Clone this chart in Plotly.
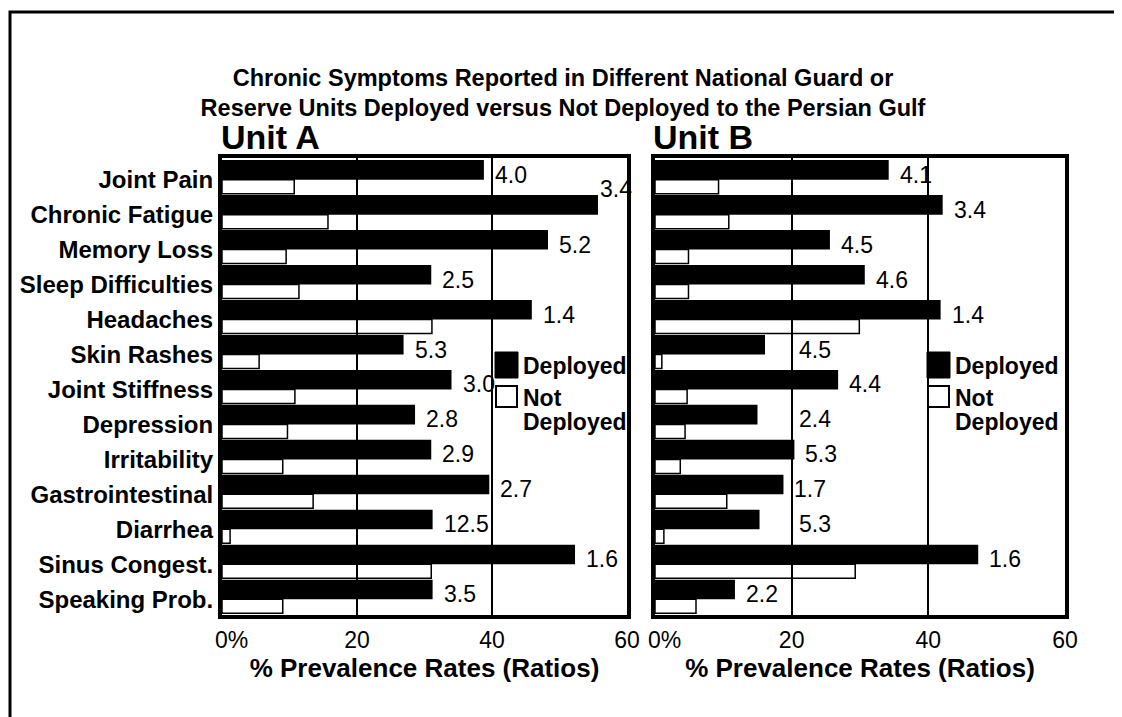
import plotly.graph_objects as go

symptoms = ["Joint Pain", "Chronic Fatigue", "Memory Loss", "Sleep Difficulties", "Headaches",
            "Skin Rashes", "Joint Stiffness", "Depression", "Irritability", "Gastrointestinal",
            "Diarrhea", "Sinus Congest.", "Speaking Prob."]
a_deployed = [38.8, 55.7, 48.3, 31.0, 45.9, 26.9, 34.0, 28.6, 31.0, 39.6, 31.2, 52.3, 31.2]
a_not_deployed = [10.7, 15.7, 9.5, 11.4, 31.1, 5.5, 10.8, 9.7, 9.0, 13.5, 1.2, 31.0, 9.0]
a_ratios = ["4.0", "3.4", "5.2", "2.5", "1.4", "5.3", "3.0", "2.8", "2.9", "2.7", "12.5", "1.6", "3.5"]
b_deployed = [34.2, 42.1, 25.6, 30.7, 41.8, 16.1, 26.8, 15.0, 20.4, 18.8, 15.3, 47.3, 11.7]
b_not_deployed = [9.3, 10.8, 4.9, 4.9, 29.9, 1.0, 4.7, 4.4, 3.7, 10.5, 1.3, 29.3, 6.0]
b_ratios = ["4.1", "3.4", "4.5", "4.6", "1.4", "4.5", "4.4", "2.4", "5.3", "1.7", "5.3", "1.6", "2.2"]
tick_vals = [0, 20, 40, 60]
tick_text = ["0%", "20", "40", "60"]
legend_names = ["Deployed", "Not", "Deployed"]

FONT = "Liberation Sans, Arial, Helvetica, sans-serif"

# The page body has an 8px margin; the figure is sized so that it fills the window.
OFF = 8
W, H = 1122 - OFF, 717 - OFF
PL, PR, PT, PB = 222, 1065, 158, 615  # plot area in window pixels


def px(xp):
    return (xp - PL) / (PR - PL)


def py(yp):
    return (PB - yp) / (PB - PT)


fig = go.Figure()

panels = [
    ("x", "y", a_deployed, a_not_deployed, a_ratios),
    ("x2", "y2", b_deployed, b_not_deployed, b_ratios),
]
for xa, ya, dep, nd, ratios in panels:
    fig.add_trace(go.Bar(
        x=dep, y=symptoms, orientation="h", xaxis=xa, yaxis=ya,
        name="Deployed", showlegend=False,
        marker=dict(color="black", line=dict(color="black", width=0)),
        offset=-0.56, width=0.56, hoverinfo="x+y",
    ))
    fig.add_trace(go.Bar(
        x=nd, y=symptoms, orientation="h", xaxis=xa, yaxis=ya,
        name="Not Deployed", showlegend=False,
        marker=dict(color="rgba(255,255,255,0)", line=dict(color="black", width=1.5)),
        offset=0.0, width=0.40, hoverinfo="x+y",
    ))
    for v, s, r in zip(dep, symptoms, ratios):
        ax, xs, ys = v, 9, 5
        # labels that would run into a gridline are set just past it
        for g in tick_vals[1:3]:
            if 1.5 < g - v < 5.5:
                ax, xs = g, 5
        # labels that would run past the axis end sit above the bar
        if v > 54:
            xs, ys = 0, 26
        fig.add_annotation(
            x=ax, y=s, xref=xa, yref=ya, text=r, showarrow=False,
            xanchor="left", yanchor="middle", xshift=xs, yshift=ys,
            font=dict(family=FONT, size=23, color="black"),
        )
    # "0%" tick label, set a little right of the axis start as in the original
    fig.add_annotation(
        x=tick_vals[0], y=py(640), xref=xa, yref="paper", text=tick_text[0],
        showarrow=False, xanchor="center", yanchor="middle", xshift=9,
        font=dict(family=FONT, size=23, color="black"),
    )

axis_common = dict(
    range=[0, 60], tickvals=tick_vals, ticktext=[""] + tick_text[1:],
    showgrid=True, gridcolor="black", gridwidth=2, zeroline=False,
    showline=True, mirror=True, linecolor="black", linewidth=4,
    ticks="", ticklabelstandoff=1,
    tickfont=dict(family=FONT, size=23, color="black"),
    title=dict(text="<b>% Prevalence Rates (Ratios)</b>", standoff=6,
               font=dict(family=FONT, size=26, color="black")),
    fixedrange=True,
)
yaxis_common = dict(
    type="category", categoryorder="array", categoryarray=symptoms,
    range=[12.45, -0.62], showgrid=False, zeroline=False,
    showline=True, mirror=True, linecolor="black", linewidth=4,
    ticks="", fixedrange=True,
)

fig.update_layout(
    width=W, height=H,
    paper_bgcolor="white", plot_bgcolor="white",
    margin=dict(l=PL - OFF, r=W - (PR - OFF), t=PT - OFF, b=H - (PB - OFF), autoexpand=False),
    barmode="overlay",
    font=dict(family=FONT, color="black"),
    showlegend=False,
    title=dict(
        text="<b>Chronic Symptoms Reported in Different National Guard or<br>"
             "Reserve Units Deployed versus Not Deployed to the Persian Gulf</b>",
        x=(563 - OFF) / W, xanchor="center", y=1 - (85.5 - OFF) / H, yanchor="middle",
        font=dict(family=FONT, size=23.5, color="black"),
    ),
    xaxis=dict(domain=[0, px(627)], anchor="y", **axis_common),
    xaxis2=dict(domain=[px(655), 1.0], anchor="y2", **axis_common),
    yaxis=dict(domain=[0, 1], anchor="x", showticklabels=True, ticklabelstandoff=0,
               tickfont=dict(family=FONT, size=24, color="black", weight="bold"),
               **yaxis_common),
    yaxis2=dict(domain=[0, 1], anchor="x2", showticklabels=False, **yaxis_common),
)

fig.add_annotation(text="<b>Unit A</b>", xref="paper", yref="paper", x=px(219), y=py(137),
                   xanchor="left", yanchor="middle", showarrow=False,
                   font=dict(family=FONT, size=34, color="black"))
fig.add_annotation(text="<b>Unit B</b>", xref="paper", yref="paper", x=px(651), y=py(137),
                   xanchor="left", yanchor="middle", showarrow=False,
                   font=dict(family=FONT, size=34, color="black"))

# Legends drawn inside each panel
for sx in (495, 927):
    fig.add_shape(type="rect", xref="paper", yref="paper",
                  x0=px(sx), x1=px(sx + 23), y0=py(378), y1=py(352),
                  line=dict(color="black", width=1), fillcolor="black")
    fig.add_shape(type="rect", xref="paper", yref="paper",
                  x0=px(sx + 1), x1=px(sx + 22), y0=py(407), y1=py(386),
                  line=dict(color="black", width=2), fillcolor="white")
    for name, yc in zip(legend_names, (366, 398, 422)):
        fig.add_annotation(text="<b>%s</b>" % name, xref="paper", yref="paper",
                           x=px(sx + 26), y=py(yc), xanchor="left", yanchor="middle",
                           showarrow=False, font=dict(family=FONT, size=23, color="black"))

fig.add_shape(type="rect", xref="paper", yref="paper",
              x0=px(10), x1=px(1300), y0=py(900), y1=py(12),
              line=dict(color="black", width=3), fillcolor="rgba(0,0,0,0)", layer="below")

fig.write_html("out.html")
